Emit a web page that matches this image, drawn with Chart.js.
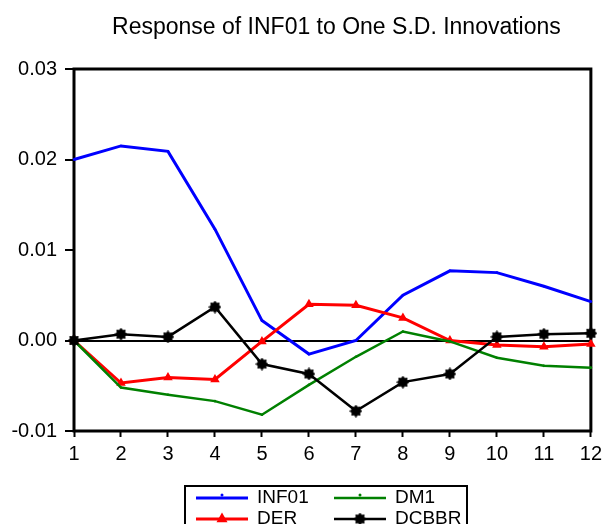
<!DOCTYPE html>
<html>
<head>
<meta charset="utf-8">
<script src="https://cdn.jsdelivr.net/npm/chart.js@4/dist/chart.umd.min.js"></script>
<style>
  html, body { margin: 0; padding: 0; background: #fff; }
  canvas { display: block; }
</style>
</head>
<body>
<canvas id="irf" width="607" height="524"></canvas>
<script>
// Impulse responses of INF01, periods 1..12
const periods = ['1', '2', '3', '4', '5', '6', '7', '8', '9', '10', '11', '12'];
const inf01 = [0.0200, 0.0215, 0.0209, 0.0123, 0.0022, -0.0015, 0.0000, 0.0050, 0.0077, 0.0075, 0.0060, 0.0043];
const der   = [0.0000, -0.0047, -0.0041, -0.0043, -0.0001, 0.0040, 0.0039, 0.0025, 0.0000, -0.0005, -0.0007, -0.0004];
const dm1   = [0.0000, -0.0052, -0.0060, -0.0067, -0.0082, -0.0049, -0.0018, 0.0010, -0.0001, -0.0019, -0.0028, -0.0030];
const dcbbr = [0.0000, 0.0007, 0.0004, 0.0037, -0.0026, -0.0037, -0.0078, -0.0046, -0.0037, 0.0004, 0.0007, 0.0008];
const yTicks = [-0.01, 0.00, 0.01, 0.02, 0.03];
const titleText = 'Response of INF01 to One S.D. Innovations';

const FONT = '"Liberation Sans", Arial, sans-serif';

// Filled eight-pointed star used as the DCBBR marker
function makeStar(size) {
  const c = document.createElement('canvas');
  c.width = size; c.height = size;
  const g = c.getContext('2d');
  const cx = size / 2, cy = size / 2, ro = size / 2, ri = size / 2 * 0.72;
  g.beginPath();
  for (let i = 0; i < 16; i++) {
    const r = i % 2 === 0 ? ro : ri;
    const a = -Math.PI / 2 + i * Math.PI / 8;
    const x = cx + r * Math.cos(a), y = cy + r * Math.sin(a);
    if (i === 0) g.moveTo(x, y); else g.lineTo(x, y);
  }
  g.closePath();
  g.fillStyle = '#000';
  g.fill();
  return c;
}
const starMark = makeStar(13);

const datasets = [
  { label: 'INF01', data: inf01, borderColor: '#0000ff', backgroundColor: '#0000ff',
    borderWidth: 3, pointStyle: 'circle', pointRadius: 1.3, order: 3 },
  { label: 'DER', data: der, borderColor: '#ff0000', backgroundColor: '#ff0000',
    borderWidth: 3, pointStyle: 'triangle', pointRadius: 5.5, order: 2 },
  { label: 'DM1', data: dm1, borderColor: '#008000', backgroundColor: '#008000',
    borderWidth: 2.5, pointStyle: 'circle', pointRadius: 1.3, order: 1 },
  { label: 'DCBBR', data: dcbbr, borderColor: '#000000', backgroundColor: '#000000',
    borderWidth: 2.5, pointStyle: starMark, pointRadius: 6.5, order: 0 }
];
datasets.forEach(d => {
  d.tension = 0;
  d.clip = false;
  d.pointBorderWidth = 0;
  d.pointHoverRadius = d.pointRadius;
});

// Frame, title and boxed legend
const decor = {
  id: 'decor',
  beforeDatasetsDraw(chart) {
    const { ctx, chartArea: a } = chart;
    ctx.save();
    ctx.strokeStyle = '#000';
    ctx.lineWidth = 3;
    ctx.strokeRect(a.left, a.top, a.right - a.left, a.bottom - a.top);
    ctx.restore();
  },
  afterDraw(chart) {
    const { ctx, chartArea: a } = chart;
    ctx.save();
    ctx.fillStyle = '#000';
    ctx.font = '23px ' + FONT;
    ctx.textAlign = 'center';
    ctx.textBaseline = 'middle';
    ctx.fillText(titleText, (a.left + a.right) / 2 + 4, 28);

    // legend box
    const bx = 185, by = 486, bw = 282, bh = 60;
    ctx.lineWidth = 2;
    ctx.strokeStyle = '#000';
    ctx.strokeRect(bx, by, bw, bh);
    const byLabel = {};
    chart.data.datasets.forEach(d => byLabel[d.label] = d);
    const rows = [['INF01', 'DM1'], ['DER', 'DCBBR']];
    const colX = [196, 334];
    const rowY = [498, 519];
    ctx.font = '19px ' + FONT;
    ctx.textAlign = 'left';
    rows.forEach((row, ri) => {
      row.forEach((name, ci) => {
        const d = byLabel[name];
        const x0 = colX[ci], x1 = x0 + 52, y = rowY[ri];
        ctx.strokeStyle = d.borderColor;
        ctx.lineWidth = d.borderWidth;
        ctx.beginPath(); ctx.moveTo(x0, y); ctx.lineTo(x1, y); ctx.stroke();
        const mx = (x0 + x1) / 2;
        ctx.fillStyle = d.backgroundColor;
        if (d.pointStyle === 'triangle') {
          const r = d.pointRadius;
          ctx.beginPath();
          ctx.moveTo(mx, y - r * 1.2);
          ctx.lineTo(mx + r, y + r * 0.6);
          ctx.lineTo(mx - r, y + r * 0.6);
          ctx.closePath(); ctx.fill();
        } else if (d.pointStyle === starMark) {
          ctx.drawImage(starMark, mx - 6.5, y - 6.5);
        } else {
          ctx.beginPath(); ctx.arc(mx, y - 3, 1.5, 0, Math.PI * 2); ctx.fill();
        }
        ctx.fillStyle = '#000';
        ctx.textBaseline = 'middle';
        ctx.fillText(name, x1 + 9, y);
      });
    });
    ctx.restore();
  }
};

new Chart(document.getElementById('irf'), {
  type: 'line',
  data: { labels: periods, datasets },
  options: {
    responsive: false,
    animation: false,
    devicePixelRatio: 1,
    events: [],
    layout: { padding: { top: 69, right: 13, bottom: 53, left: 0 } },
    plugins: {
      legend: { display: false },
      title: { display: false },
      tooltip: { enabled: false }
    },
    scales: {
      x: {
        offset: false,
        afterFit(s) { s.height = 40; },
        border: { display: false },
        grid: { drawOnChartArea: false, tickLength: 6, tickWidth: 2, tickColor: '#000' },
        ticks: { color: '#000', padding: 5, maxRotation: 0, autoSkip: false,
                 font: { family: FONT, size: 20 } }
      },
      y: {
        min: yTicks[0],
        max: yTicks[yTicks.length - 1],
        afterFit(s) { s.width = 74; },
        afterBuildTicks(s) { s.ticks = yTicks.map(v => ({ value: v })); },
        border: { display: false },
        grid: {
          drawOnChartArea: true,
          color: c => (c.tick && Math.abs(c.tick.value) < 1e-9) ? '#000' : 'rgba(0,0,0,0)',
          lineWidth: 2,
          tickLength: 9,
          tickWidth: 2,
          tickColor: '#000'
        },
        ticks: { color: '#000', padding: 8, font: { family: FONT, size: 20 },
                 callback: v => Number(v).toFixed(2) }
      }
    }
  },
  plugins: [decor]
});
</script>
</body>
</html>
